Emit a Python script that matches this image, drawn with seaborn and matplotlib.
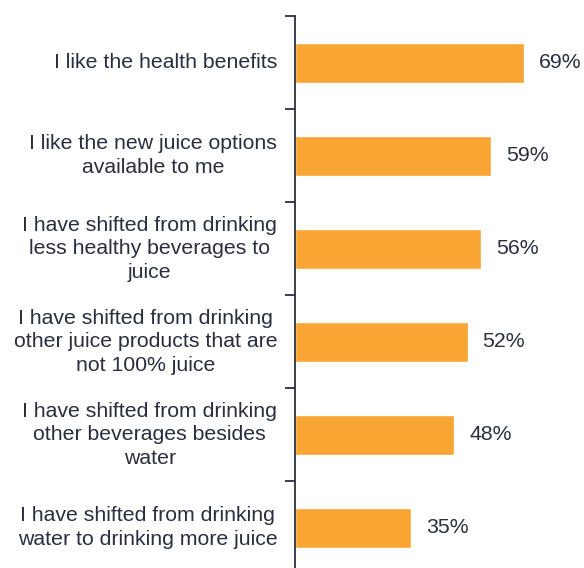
import matplotlib
matplotlib.use("Agg")
import matplotlib.pyplot as plt
import seaborn as sns
import pandas as pd

reasons = [
    "I like the health benefits",
    "I like the new juice options\navailable to me",
    "I have shifted from drinking\nless healthy beverages to\njuice",
    "I have shifted from drinking\nother juice products that are\nnot 100% juice",
    "I have shifted from drinking\nother beverages besides\nwater",
    "I have shifted from drinking\nwater to drinking more juice",
]
shares = [69, 59, 56, 52, 48, 35]

sns.set_theme(style="white")
plt.rcParams["font.family"] = ["Liberation Sans", "DejaVu Sans"]

text_color = "#2A2E3F"
bar_color = "#F9A533"

df = pd.DataFrame({"reason": reasons, "share": shares})

fig = plt.figure(figsize=(5.84, 5.68), dpi=100)
ax = fig.add_axes([0.505, -0.0106, 0.495, 0.9824])

sns.barplot(data=df, x="share", y="reason", color=bar_color, width=0.43,
            saturation=1, ax=ax)

ax.set_xlim(0, 87.0)
ax.set_ylim(len(reasons) - 0.5, -0.5)
ax.set_xlabel("")
ax.set_ylabel("")
ax.set_xticks([])

for spine in ["top", "right", "bottom"]:
    ax.spines[spine].set_visible(False)
ax.spines["left"].set_color(text_color)
ax.spines["left"].set_linewidth(1.3)

# category labels placed by hand so ticks can sit on the band boundaries
ax.set_yticks([i - 0.5 for i in range(len(reasons) + 1)], labels=[""] * (len(reasons) + 1))
ax.tick_params(axis="y", direction="out", length=7, width=1.3, color=text_color, left=True)

for i, (r, v) in enumerate(zip(reasons, shares)):
    ax.text(-5.3, i, r, ha="right", va="center", ma="center", fontsize=15.3,
            color=text_color, linespacing=1.3, clip_on=False)
    ax.text(v + 4.5, i, f"{v}%", ha="left", va="center", fontsize=15.3,
            color=text_color)

fig.savefig("out.png", dpi=100)
